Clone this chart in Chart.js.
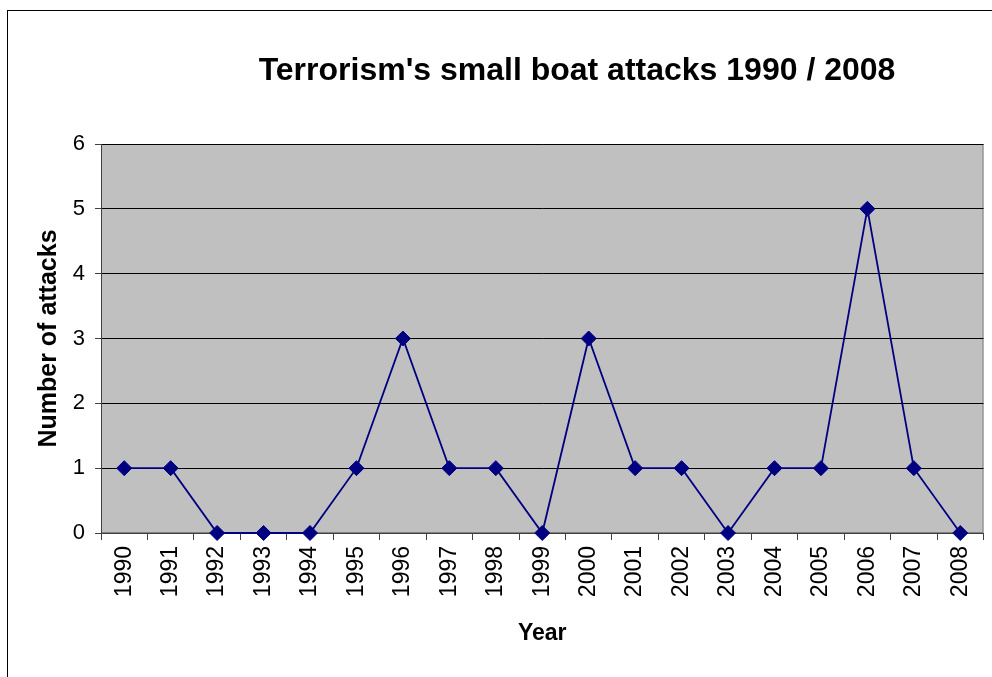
<!DOCTYPE html>
<html>
<head>
<meta charset="utf-8">
<script src="https://cdn.jsdelivr.net/npm/chart.js@4"></script>
<style>
  html, body { margin: 0; padding: 0; background: #fff; overflow: hidden; }
  #chart { display: block; }
</style>
</head>
<body>
<canvas id="chart" width="992" height="677"></canvas>
<script>
var years = ['1990','1991','1992','1993','1994','1995','1996','1997','1998','1999',
             '2000','2001','2002','2003','2004','2005','2006','2007','2008'];
var attacks = [1, 1, 0, 0, 0, 1, 3, 1, 1, 0, 3, 1, 1, 0, 1, 1, 5, 1, 0];
var titleText = "Terrorism's small boat attacks 1990 / 2008";
var yTitle = 'Number of attacks';
var xTitle = 'Year';

var font = "'Liberation Sans', Arial, sans-serif";

// gray plot area, its border, the outer frame and the title
var decor = {
    id: 'decor',
    beforeDraw: function(chart) {
        var ctx = chart.ctx, a = chart.chartArea;
        ctx.save();
        ctx.fillStyle = '#c0c0c0';
        ctx.fillRect(a.left, a.top, a.right - a.left, a.bottom - a.top);
        ctx.strokeStyle = '#808080';
        ctx.lineWidth = 1;
        ctx.strokeRect(a.left + 0.5, a.top + 0.5, a.right - a.left - 1, a.bottom - a.top - 1);
        ctx.strokeStyle = '#000';
        ctx.strokeRect(7.5, 10.5, 1200, 1000);
        ctx.fillStyle = '#000';
        ctx.font = 'bold 32px ' + font;
        ctx.textAlign = 'center';
        ctx.textBaseline = 'middle';
        ctx.fillText(titleText, 577, 71);
        ctx.restore();
    }
};

var ctxP = document.getElementById('chart').getContext('2d');
var myChart = new Chart(ctxP, {
    type: 'line',
    data: {
        labels: years,
        datasets: [
            {
                data: attacks,
                borderColor: '#000080',
                backgroundColor: '#000080',
                borderWidth: 1.8,
                pointStyle: 'rectRot',
                pointRadius: 7.5,
                pointBorderWidth: 1,
                pointHoverRadius: 7.5,
                tension: 0,
                clip: false
            }
        ]
    },
    options: {
        responsive: false,
        animation: false,
        layout: { padding: { left: 0, right: 7, top: 144, bottom: 0 } },
        plugins: {
            legend: { display: false },
            tooltip: { enabled: false }
        },
        scales: {
            x: {
                offset: true,
                afterFit: function(s) {
                    s.height = 144;
                    s.paddingLeft = 0;
                    s.paddingRight = 0;
                },
                grid: {
                    offset: true,
                    drawOnChartArea: false,
                    drawTicks: true,
                    tickLength: 7,
                    color: '#404040'
                },
                border: { color: '#404040', width: 1 },
                ticks: {
                    color: '#000',
                    font: { family: font, size: 23 },
                    minRotation: 90,
                    maxRotation: 90,
                    padding: 6,
                    autoSkip: false
                },
                title: {
                    display: true,
                    text: xTitle,
                    color: '#000',
                    font: { family: font, size: 23, weight: 'bold' },
                    padding: { top: 0, bottom: 30 }
                }
            },
            y: {
                min: 0,
                max: 6,
                afterFit: function(s) { s.width = 101; },
                grid: {
                    color: '#000',
                    lineWidth: 1,
                    drawTicks: true,
                    tickLength: 6,
                    tickColor: '#404040'
                },
                border: { color: '#404040', width: 1 },
                ticks: {
                    stepSize: 1,
                    color: '#000',
                    font: { family: font, size: 22 },
                    padding: 10
                },
                title: {
                    display: true,
                    text: yTitle,
                    color: '#000',
                    font: { family: font, size: 25, weight: 'bold' },
                    padding: { top: 34, bottom: 0 }
                }
            }
        }
    },
    plugins: [decor]
});
</script>
</body>
</html>
